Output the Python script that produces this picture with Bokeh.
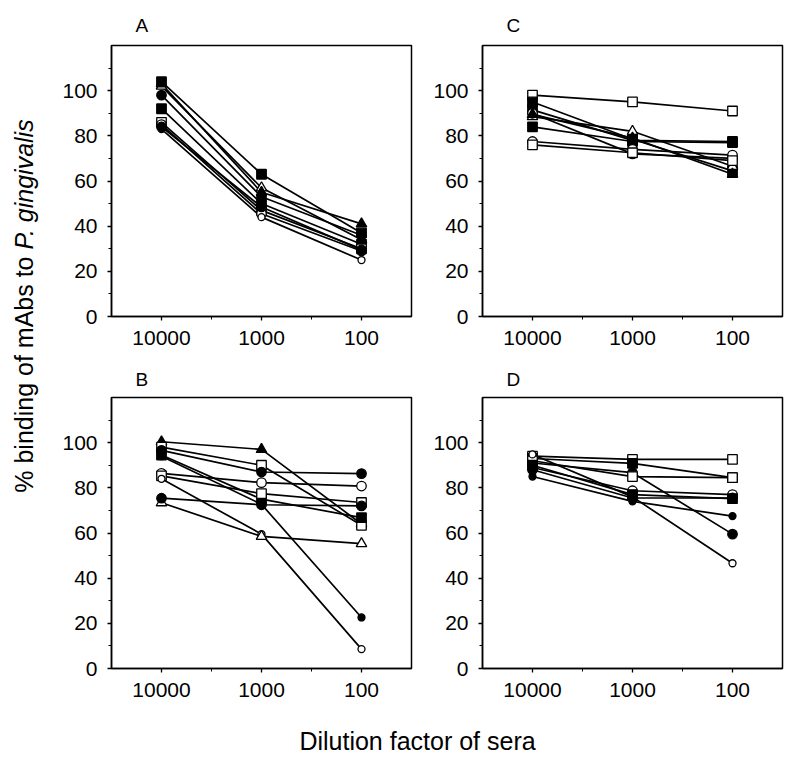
import math
from bokeh.plotting import figure
from bokeh.models import Range1d, FixedTicker, NumeralTickFormatter, Label
from bokeh.layouts import row, column
from bokeh.embed import file_html
from bokeh.resources import INLINE

# ---------------- data ----------------
dilutions = [10000, 1000, 100]
dilution_minor = [10 ** 3.5, 10 ** 2.5]
y_ticks = [0, 20, 40, 60, 80, 100]
y_minor = [10, 30, 50, 70, 90, 110]

# panel A
A_values = [
    [104, 63, 37],
    [102, 57, 34],
    [103, 55, 41],
    [98, 53, 36],
    [92, 50, 32],
    [86, 47, 30],
    [85, 45.5, 29],
    [83, 44, 25],
    [84, 48.5, 29.5],
]
A_markers = ["sq_f", "tri_o", "tri_f", "ci_f", "sq_f", "sq_o", "ci_o", "cs_o", "ci_f"]

# panel C
C_values = [
    [98, 95, 91],
    [95, 78.5, 64.5],
    [91.5, 78, 77.5],
    [88.5, 82, 66.5],
    [90, 72, 70],
    [84, 77.5, 77],
    [77.5, 74, 71.5],
    [76, 72.5, 69],
    [89.5, 79, 63],
]
C_markers = ["sq_o", "sq_f", "sq_f", "tri_o", "ci_o", "sq_f", "ci_o", "sq_o", "tri_f"]

# panel B
B_values = [
    [100.4, 97, 64],
    [98, 90, 63.4],
    [96.6, 87, 86.3],
    [94.5, 75, 66.8],
    [94, 72.7, 22.6],
    [86.4, 82.3, 80.8],
    [85.3, 77.4, 73.5],
    [84, 59.5, 8.6],
    [73.4, 58.5, 55.3],
    [75.4, 72.5, 72],
]
B_markers = ["tri_f", "sq_o", "ci_f", "sq_f", "cs_f", "ci_o", "sq_o", "cs_o", "tri_o", "ci_f"]

# panel D
D_values = [
    [94, 92.6, 92.6],
    [93, 90.8, 84.5],
    [91, 86.7, 59.5],
    [92, 85, 84.5],
    [89, 78.7, 77],
    [90, 77, 75.2],
    [85, 74, 67.5],
    [94.8, 76, 46.6],
    [88, 75.5, 75.5],
]
D_markers = ["sq_o", "sq_f", "ci_f", "sq_o", "ci_o", "sq_f", "cs_f", "cs_o", "ci_f"]

panel_letters = ["A", "C", "B", "D"]
y_label_main = "% binding of mAbs to"
y_label_italic = "P. gingivalis"
x_label = "Dilution factor of sera"

# ---------------- styles ----------------
FONT = "Liberation Sans"
MARKER_STYLE = {
    "sq": ("square", 9.5),
    "tri": ("triangle", 10.5),
    "ci": ("circle", 9.5),
    "cs": ("circle", 7),
}


def make_panel(letter, values, markers, left, right, top, bottom, standoff):
    p = figure(
        frame_width=300, frame_height=271,
        x_axis_type="log",
        x_range=Range1d(10 ** 4.5, 10 ** 1.5),
        y_range=Range1d(0, 120),
        output_backend="svg", toolbar_location=None,
        min_border_left=left, min_border_right=right,
        min_border_top=top, min_border_bottom=bottom,
    )
    p.title.text = letter
    p.title.align = "left"
    p.title.offset = 24
    p.title.text_font = FONT
    p.title.text_font_size = "19px"
    p.title.text_font_style = "normal"
    p.title.text_color = "black"
    p.title.standoff = standoff
    p.xgrid.visible = False
    p.ygrid.visible = False
    p.outline_line_color = "black"
    p.outline_line_width = 1.5
    p.outline_line_alpha = 1.0
    p.background_fill_color = "white"
    p.border_fill_color = "white"

    xa = p.xaxis[0]
    xa.ticker = FixedTicker(ticks=dilutions, minor_ticks=dilution_minor)
    xa.formatter = NumeralTickFormatter(format="0")
    ya = p.yaxis[0]
    ya.ticker = FixedTicker(ticks=y_ticks, minor_ticks=y_minor)
    for ax in (xa, ya):
        ax.major_label_text_font = FONT
        ax.major_label_text_font_size = "21px"
        ax.major_label_text_color = "black"
        ax.axis_line_color = "black"
        ax.axis_line_width = 1.5
        ax.major_tick_line_color = "black"
        ax.major_tick_line_width = 1.3
        ax.minor_tick_line_color = "black"
        ax.minor_tick_line_width = 1.0
        ax.major_tick_in = 0
        ax.major_tick_out = 4
        ax.minor_tick_in = 0
        ax.minor_tick_out = 3
    xa.major_label_standoff = 10
    ya.major_label_standoff = 10

    for vals in values:
        p.line(dilutions, vals, line_color="black", line_width=1.7)
    for vals, m in zip(values, markers):
        kind, fill = m.split("_")
        marker, size = MARKER_STYLE[kind]
        p.scatter(dilutions, vals, marker=marker, size=size,
                  line_color="black", line_width=1.3,
                  fill_color="black" if fill == "f" else "white")
    return p


pA = make_panel(panel_letters[0], A_values, A_markers, 60, 11, 45, 43, 19)
pC = make_panel(panel_letters[1], C_values, C_markers, 60, 8, 45, 43, 19)
pB = make_panel(panel_letters[2], B_values, B_markers, 60, 11, 37, 43, 15)
pD = make_panel(panel_letters[3], D_values, D_markers, 60, 8, 37, 43, 15)


def blank(w, h):
    f = figure(frame_width=w, frame_height=h, x_range=Range1d(0, w), y_range=Range1d(0, h),
               x_axis_location=None, y_axis_location=None, title=None,
               output_backend="svg", toolbar_location=None, min_border=0)
    f.xgrid.visible = False
    f.ygrid.visible = False
    f.outline_line_color = None
    return f


XLAB_H = 48
TOTAL_H = 359 + 351 + XLAB_H

ylab = blank(51, TOTAL_H)
ylab.add_layout(Label(x=23, y=TOTAL_H - 256, text=y_label_main, angle=math.pi / 2,
                      text_align="right", text_baseline="alphabetic", text_color="black",
                      text_font=FONT, text_font_size="25px"))
ylab.add_layout(Label(x=23, y=TOTAL_H - 249, text=y_label_italic, angle=math.pi / 2,
                      text_align="left", text_baseline="alphabetic", text_color="black",
                      text_font=FONT, text_font_size="25px", text_font_style="italic"))

xlab = blank(739, XLAB_H)
xlab.add_layout(Label(x=366, y=TOTAL_H - 739, text=x_label, text_align="center",
                      text_baseline="alphabetic", text_color="black",
                      text_font=FONT, text_font_size="25px"))

layout = row(ylab, column(row(pA, pC), row(pB, pD), xlab))

open("out.html", "w").write(file_html(layout, INLINE))
